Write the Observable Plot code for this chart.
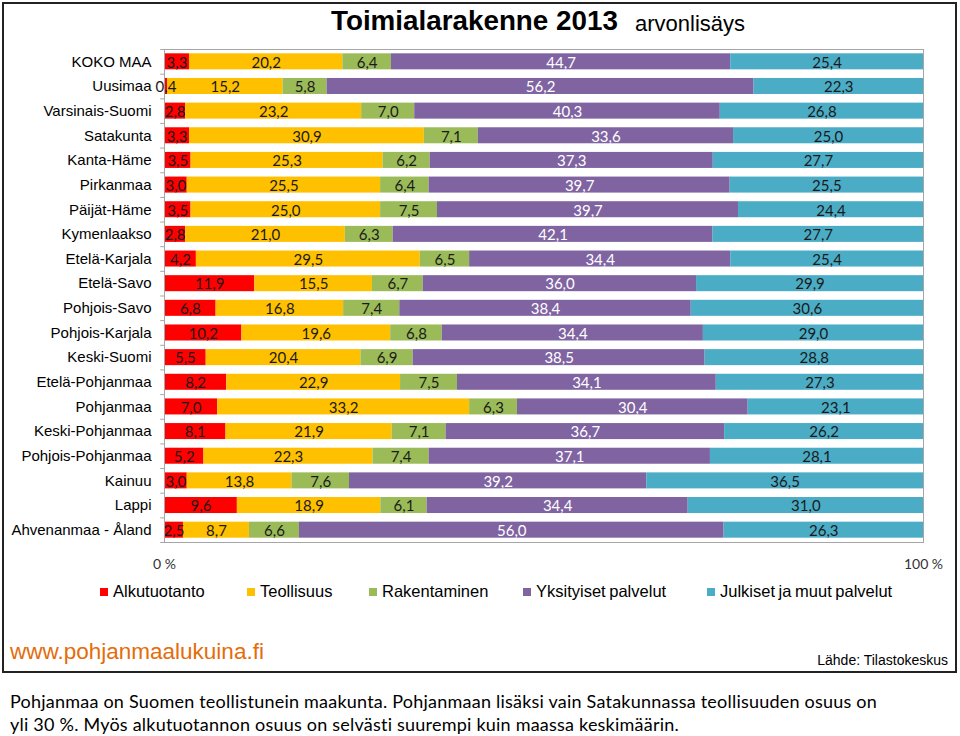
<!DOCTYPE html>
<html><head><meta charset="utf-8">
<script src="https://cdn.jsdelivr.net/npm/d3@7"></script>
<script src="https://cdn.jsdelivr.net/npm/@observablehq/plot@0.6"></script>
<style>
body{margin:0;background:#fff;width:960px;height:736px;position:relative;overflow:hidden;font-family:Arial,"Liberation Sans",sans-serif}
#box{position:absolute;left:2px;top:2px;width:951px;height:667px;border:2px solid #222;}
#chart{position:absolute;left:0;top:0}
.t{position:absolute;white-space:nowrap}
#title{left:331px;top:5px;font-size:27.8px;font-weight:bold;color:#000}
#sub{left:635px;top:11px;font-size:22px;color:#000}
.leg{position:absolute;top:582px;font-size:16.5px;word-spacing:-1px;color:#000;white-space:nowrap}
.leg i{display:inline-block;width:8px;height:8px;margin-right:5px;vertical-align:1px}
#www{left:10px;top:639px;font-size:22.5px;color:#e46c0a}
#src{right:12px;top:652px;font-size:14px;color:#000}
.cap{left:10px;font-family:Lato,"Open Sans",sans-serif;font-size:18px;letter-spacing:0.22px;line-height:18px;color:#000}
</style></head>
<body>
<div id="box"></div>
<div id="chart"></div>
<div class="t" id="title">Toimialarakenne 2013</div>
<div class="t" id="sub">arvonlisäys</div>
<div id="legend"></div>
<div class="t" id="www">www.pohjanmaalukuina.fi</div>
<div class="t" id="src">Lähde: Tilastokeskus</div>
<div class="t cap" style="top:692px">Pohjanmaa on Suomen teollistunein maakunta. Pohjanmaan lisäksi vain Satakunnassa teollisuuden osuus on</div>
<div class="t cap" style="top:715px">yli 30 %. Myös alkutuotannon osuus on selvästi suurempi kuin maassa keskimäärin.</div>
<script>
const regions = ["KOKO MAA","Uusimaa","Varsinais-Suomi","Satakunta","Kanta-Häme","Pirkanmaa","Päijät-Häme","Kymenlaakso","Etelä-Karjala","Etelä-Savo","Pohjois-Savo","Pohjois-Karjala","Keski-Suomi","Etelä-Pohjanmaa","Pohjanmaa","Keski-Pohjanmaa","Pohjois-Pohjanmaa","Kainuu","Lappi","Ahvenanmaa - Åland"];
const sectors = ["Alkutuotanto","Teollisuus","Rakentaminen","Yksityiset palvelut","Julkiset ja muut palvelut"];
const sectorColors = ["#ff0000","#ffc000","#9bbb59","#8064a2","#4bacc6"];
const alkutuotanto = [3.3,0.4,2.8,3.3,3.5,3.0,3.5,2.8,4.2,11.9,6.8,10.2,5.5,8.2,7.0,8.1,5.2,3.0,9.6,2.5];
const teollisuus = [20.2,15.2,23.2,30.9,25.3,25.5,25.0,21.0,29.5,15.5,16.8,19.6,20.4,22.9,33.2,21.9,22.3,13.8,18.9,8.7];
const rakentaminen = [6.4,5.8,7.0,7.1,6.2,6.4,7.5,6.3,6.5,6.7,7.4,6.8,6.9,7.5,6.3,7.1,7.4,7.6,6.1,6.6];
const yksityiset = [44.7,56.2,40.3,33.6,37.3,39.7,39.7,42.1,34.4,36.0,38.4,34.4,38.5,34.1,30.4,36.7,37.1,39.2,34.4,56.0];
const julkiset = [25.4,22.3,26.8,25.0,27.7,25.5,24.4,27.7,25.4,29.9,30.6,29.0,28.8,27.3,23.1,26.2,28.1,36.5,31.0,26.3];
const xTicks = [0, 1];
const xTickLabels = ["0 %", "100 %"];

const series = [alkutuotanto, teollisuus, rakentaminen, yksityiset, julkiset];
const rows = [];
regions.forEach((r, i) => sectors.forEach((s, j) => rows.push({region: r, sector: s, value: series[j][i]})));
const fmt = v => v.toFixed(1).replace(".", ",");
const stackOpts = (extra) => Plot.stackX({x: "value", y: "region", z: "sector", order: sectors, offset: "normalize", ...extra});
const half = (580 - 49 - 38) / regions.length / 2;

const chart = Plot.plot({
  width: 960, height: 580,
  marginLeft: 164, marginRight: 37, marginTop: 49, marginBottom: 38,
  style: {fontFamily: "Arial, 'Liberation Sans', sans-serif", fontSize: "15px", color: "#000", background: "transparent"},
  x: {domain: [0, 1]},
  y: {domain: regions, paddingInner: 0.35, paddingOuter: 0.175, round: false, label: null},
  color: {domain: sectors, range: sectorColors},
  marks: [
    Plot.barX(rows, stackOpts({fill: "sector"})),
    Plot.text(rows, stackOpts({text: d => d.sector === "Yksityiset palvelut" ? null : fmt(d.value), fill: "#1a1a1a", fontFamily: "Lato, 'Open Sans', sans-serif", fontSize: 15, dy: 1})),
    Plot.text(rows, stackOpts({text: d => d.sector === "Yksityiset palvelut" ? fmt(d.value) : null, fill: "white", fontFamily: "Lato, 'Open Sans', sans-serif", fontSize: 15, dy: 1})),
    Plot.frame({stroke: "#a6a6a6"}),
    Plot.ruleY(regions, {y: d => d, x1: -0.005, x2: 0, dy: -half, stroke: "#a6a6a6"}),
    Plot.ruleY(regions.slice(-1), {y: d => d, x1: -0.005, x2: 0, dy: half, stroke: "#a6a6a6"}),
    Plot.axisY({tickSize: 0, tickPadding: 13, label: null}),
    Plot.axisX({ticks: xTicks, tickFormat: (d, i) => xTickLabels[i], tickSize: 0, tickPadding: 17, fontSize: 14, fontFamily: "Lato, 'Open Sans', sans-serif", fill: "#333", label: null})
  ]
});
document.getElementById("chart").appendChild(chart);

const legX = [100, 247, 369, 523, 707];
const leg = document.getElementById("legend");
sectors.forEach((s, i) => {
  const d = document.createElement("div");
  d.className = "leg";
  d.style.left = legX[i] + "px";
  d.innerHTML = `<i style="background:${sectorColors[i]}"></i>${s}`;
  leg.appendChild(d);
});
</script>
</body></html>
